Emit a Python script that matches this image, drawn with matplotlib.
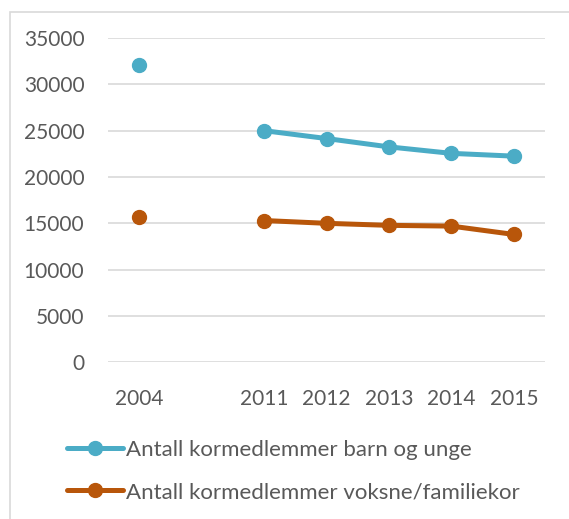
import numpy as np
import matplotlib.pyplot as plt
from matplotlib.patches import Rectangle

# categories (blank slot between 2004 and 2011)
years = ['2004', '', '2011', '2012', '2013', '2014', '2015']
barn_unge = [32100, np.nan, 25000, 24150, 23250, 22550, 22250]
voksne = [15650, np.nan, 15300, 15000, 14780, 14700, 13800]
y_ticks = [0, 5000, 10000, 15000, 20000, 25000, 30000, 35000]

blue = '#4BACC6'
orange = '#B8560A'
txt = '#595959'

plt.rcParams['font.family'] = ['Lato', 'DejaVu Sans']

W, H = 569, 519
fig = plt.figure(figsize=(W / 100, H / 100), dpi=100)
ax = fig.add_axes([108 / W, 1 - 362.3 / H, (545 - 108) / W, (362.3 - 38) / H])

x = np.arange(len(years))
ax.plot(x, barn_unge, color=blue, lw=3.6, marker='o', ms=10,
        solid_capstyle='round', label='Antall kormedlemmer barn og unge', zorder=3)
ax.plot(x, voksne, color=orange, lw=3.6, marker='o', ms=10,
        solid_capstyle='round', label='Antall kormedlemmer voksne/familiekor', zorder=3)

ax.set_xlim(-0.5, len(years) - 0.5)
ax.set_ylim(0, 35000)
ax.set_yticks(y_ticks)
ax.set_xticks(x)
ax.set_xticklabels(years)
ax.grid(axis='y', color='#D9D9D9', lw=1.2)
ax.set_axisbelow(True)
for s in ax.spines.values():
    s.set_visible(False)
ax.tick_params(axis='both', length=0, labelsize=15, colors=txt)
ax.tick_params(axis='y', pad=17)
ax.tick_params(axis='x', pad=19)

leg = ax.legend(loc='upper left', bbox_to_anchor=(67 / W, 1 - 440 / H),
                bbox_transform=fig.transFigure, frameon=False, fontsize=16,
                handlelength=2.5, handletextpad=0.15, labelspacing=1.0,
                borderpad=0, borderaxespad=0)
for t in leg.get_texts():
    t.set_color(txt)

# outer chart frame (only top and left edges visible)
fig.add_artist(Rectangle((10 / W, -0.1), 1.2, 1 - 11.5 / H + 0.1,
                         transform=fig.transFigure, fill=False,
                         edgecolor='#D9D9D9', lw=1.2))

fig.savefig('out.png', dpi=100)
